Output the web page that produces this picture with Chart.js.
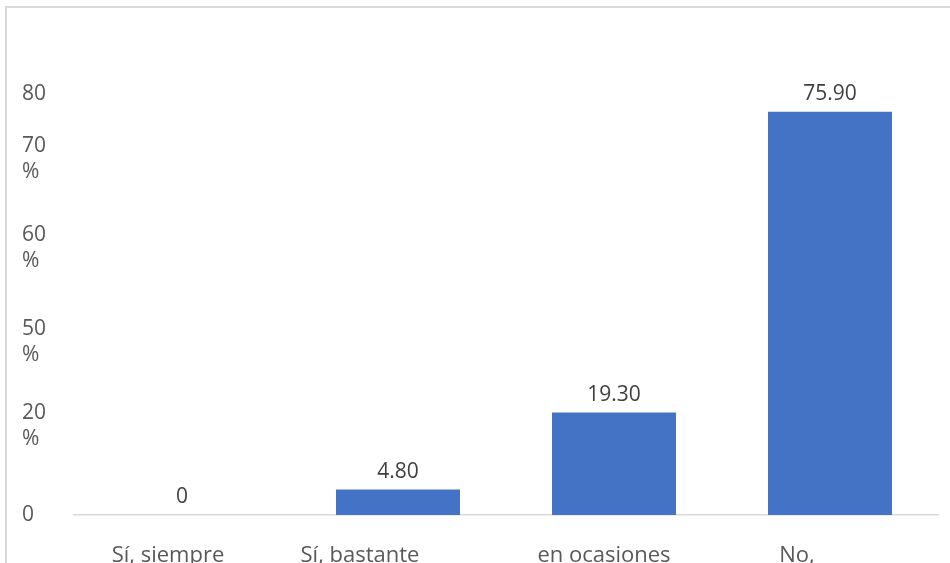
<!DOCTYPE html>
<html>
<head>
<meta charset="utf-8">
<script src="https://cdn.jsdelivr.net/npm/chart.js@4.4.1/dist/chart.umd.min.js"></script>
<style>
  html, body { margin: 0; padding: 0; background: #ffffff; }
  #wrap { width: 950px; height: 563px; position: relative; }
</style>
</head>
<body>
<div id="wrap"><canvas id="c" width="950" height="563"></canvas></div>
<script>
// Survey answers and their share of respondents (%)
const categories = ['Sí, siempre', 'Sí, bastante', 'en ocasiones', 'No,'];
const percentages = [0, 4.80, 19.30, 75.90];

// Left-axis labels and the values they sit at
const yTickValues = [0, 16.7, 32.6, 50.2, 67, 79.3];
const yTickLabels = ['0', ['20', '%'], ['50', '%'], ['60', '%'], ['70', '%'], '80'];

const TEXT = '#595959';
const FONT = '"Open Sans", "Noto Sans", sans-serif';

// Light frame around the figure (top and left edges)
const framePlugin = {
  id: 'frame',
  beforeDraw(chart) {
    const ctx = chart.ctx;
    ctx.save();
    ctx.fillStyle = '#ffffff';
    ctx.fillRect(0, 0, chart.width, chart.height);
    ctx.strokeStyle = '#d9d9d9';
    ctx.lineWidth = 2;
    ctx.beginPath();
    ctx.moveTo(6, chart.height + 2);
    ctx.lineTo(6, 7);
    ctx.lineTo(chart.width + 2, 7);
    ctx.stroke();
    ctx.restore();
  }
};

// Value labels above each bar
const valueLabels = {
  id: 'valueLabels',
  afterDatasetsDraw(chart) {
    const ctx = chart.ctx;
    const meta = chart.getDatasetMeta(0);
    ctx.save();
    ctx.font = '21px ' + FONT;
    ctx.fillStyle = '#404040';
    ctx.textAlign = 'center';
    ctx.textBaseline = 'bottom';
    meta.data.forEach((bar, i) => {
      const v = chart.data.datasets[0].data[i];
      const txt = v === 0 ? '0' : v.toFixed(2);
      ctx.fillText(txt, bar.x, bar.y - 7);
    });
    ctx.restore();
  }
};

// Category names under the axis, each nudged as laid out in the figure
const categoryLabels = {
  id: 'categoryLabels',
  afterDraw(chart, args, opts) {
    const ctx = chart.ctx;
    const xs = chart.scales.x;
    ctx.save();
    ctx.font = '22px ' + FONT;
    ctx.fillStyle = TEXT;
    ctx.textAlign = 'center';
    ctx.textBaseline = 'alphabetic';
    chart.data.labels.forEach((lab, i) => {
      const x = xs.getPixelForTick(i) + (opts.shift[i] || 0);
      ctx.fillText(lab, x, xs.top + 47);
    });
    ctx.restore();
  }
};

new Chart(document.getElementById('c'), {
  type: 'bar',
  data: {
    labels: categories,
    datasets: [{
      data: percentages,
      backgroundColor: '#4472c4',
      borderWidth: 0,
      categoryPercentage: 1,
      barPercentage: 0.574
    }]
  },
  options: {
    responsive: false,
    animation: false,
    events: [],
    layout: { padding: { left: 22, right: 12, top: 90, bottom: 0 } },
    plugins: {
      legend: { display: false },
      tooltip: { enabled: false },
      categoryLabels: { shift: [-14, -38, -10, -33] }
    },
    scales: {
      x: {
        grid: { display: false, drawTicks: false },
        border: { display: true, color: '#d9d9d9', width: 1.5 },
        ticks: { display: false },
        afterFit(s) { s.height = 48; }
      },
      y: {
        min: 0,
        max: 80,
        grid: { display: false, drawTicks: false },
        border: { display: false },
        afterBuildTicks(s) { s.ticks = yTickValues.map(v => ({ value: v })); },
        afterFit(s) { s.width = 52; },
        ticks: {
          crossAlign: 'far',
          padding: 0,
          color: TEXT,
          font: { family: FONT, size: 21, lineHeight: 1.25 },
          callback(value, index) { return yTickLabels[index]; }
        }
      }
    }
  },
  plugins: [framePlugin, valueLabels, categoryLabels]
});
</script>
</body>
</html>
